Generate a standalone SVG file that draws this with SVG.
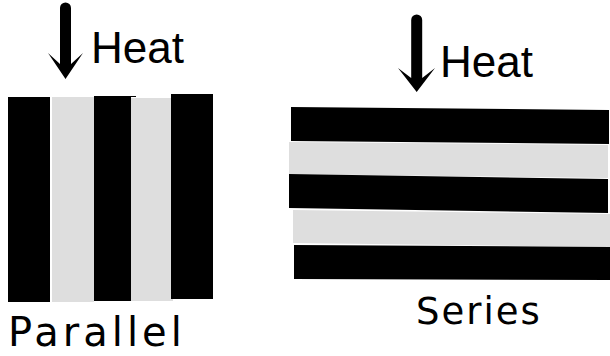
<svg xmlns="http://www.w3.org/2000/svg" width="610" height="356" viewBox="0 0 610 356">
<style>
.blk{fill:#000}
.gry{fill:#dedede}
.lbl{font-family:"Liberation Sans",Arial,sans-serif;fill:#000}
.cap{font-family:"DejaVu Sans","Verdana",sans-serif;fill:#000}
.heat{font-size:44px}
.arrow{fill:#000}
</style>
<rect width="610" height="356" fill="#fff"/>
<g id="parallel">
<rect class="blk" x="8" y="97" width="42" height="205"/>
<rect class="gry" x="52" y="97" width="42" height="205"/>
<polygon class="blk" points="94,96 136,96 136,97 131,97 131,301 94,301"/>
<rect class="gry" x="131" y="98" width="42" height="203"/>
<rect class="blk" x="171" y="94" width="42" height="205"/>
</g>
<g id="series">
<polygon class="blk" points="291,107 609,110 609,144 291,141"/>
<polygon class="gry" points="289,142 608,145 608,178 289,174"/>
<polygon class="blk" points="289,174 608,179 608,213 289,208"/>
<polygon class="gry" points="293,210 610,214 610,247 293,243"/>
<polygon class="blk" points="294,245 610,247 610,280 294,279"/>
</g>
<g id="heat-left">
<path class="arrow" d="M60,8 a5.5,5.5 0 0 1 11,0 V64 L83,53 L65.5,79 L48,53 L60,64 Z"/>
<text class="lbl heat" x="91" y="63">Heat</text>
</g>
<g id="heat-right">
<path class="arrow" d="M411.2,20 a5.5,5.5 0 0 1 11,0 V78 L435,68 L416.7,92 L398,68 L411.2,78 Z"/>
<text class="lbl heat" x="440" y="77">Heat</text>
</g>
<g id="label-parallel">
<text class="cap" x="8" y="346" font-size="40" letter-spacing="4">Parallel</text>
</g>
<g id="label-series">
<text class="cap" x="416" y="324" font-size="37" letter-spacing="2">Series</text>
</g>
</svg>
